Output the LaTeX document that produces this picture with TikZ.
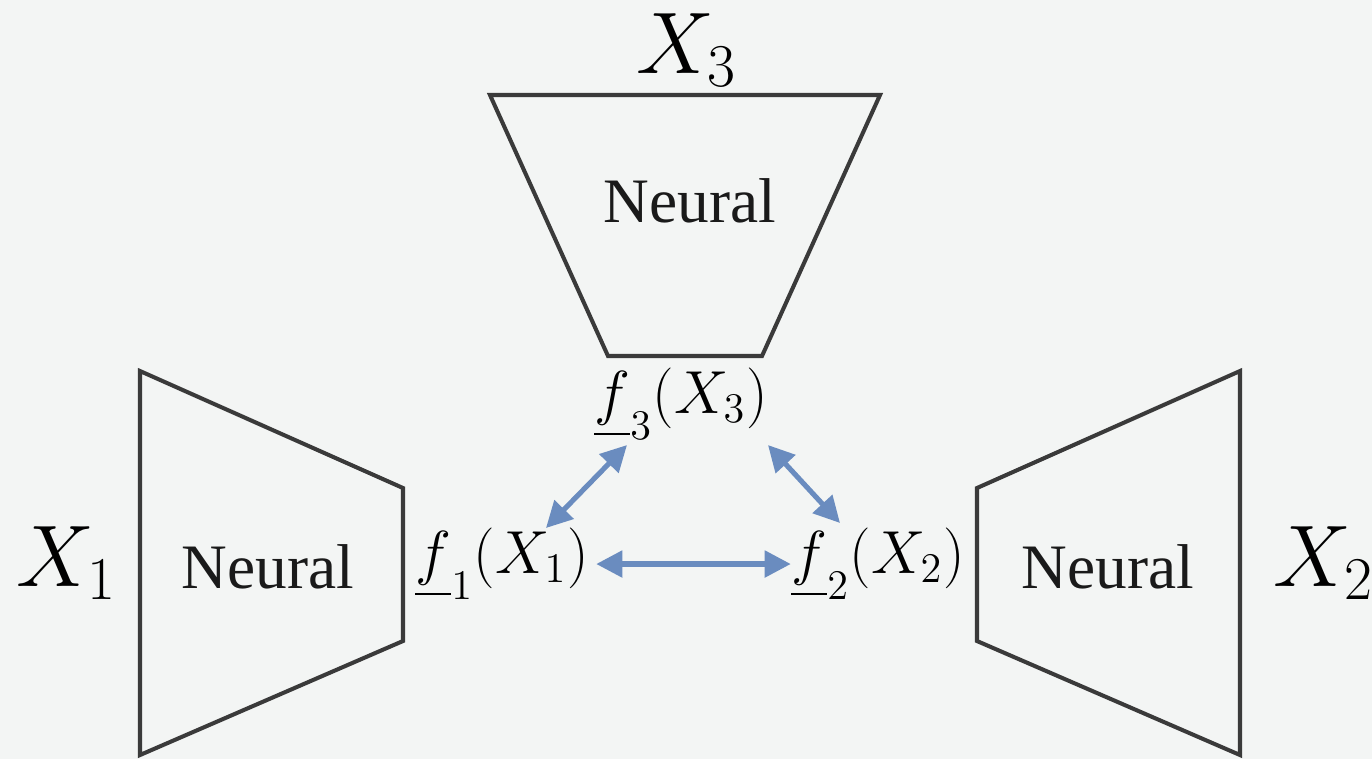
\documentclass[tikz,border=0pt]{standalone}
\usepackage{amsmath}
\usepackage{fontspec}
\setmainfont{Liberation Serif}
\newfontfamily\netfont{Liberation Serif}
\usetikzlibrary{arrows.meta}
\definecolor{cBg}{HTML}{F3F5F4}
\definecolor{cEdgeD}{HTML}{3A3A3A}
\definecolor{cTextT}{HTML}{1A1A1A}
\definecolor{cLinkD}{HTML}{6A8CBF}
\tikzset{
  net/.style    = {draw=cEdgeD, line width=1.15pt, line join=miter},
  netlbl/.style = {text=cTextT, font=\netfont\fontsize{18}{20}\selectfont, inner sep=1pt},
  inlbl/.style  = {text=black, font=\fontsize{23}{26}\selectfont, inner sep=1pt},
  feat/.style   = {text=black, font=\fontsize{16.8}{19}\selectfont, inner sep=1pt},
  link/.style   = {cLinkD, line width=1.45pt,
                   {Triangle[length=7.4pt,width=7.4pt]}-{Triangle[length=7.4pt,width=7.4pt]}},
}

\begin{document}
\begin{tikzpicture}[x=0.01cm, y=-0.01cm]
  \fill[cBg] (0,0) rectangle (1372,759);
  \useasboundingbox (0,0) rectangle (1372,759);
  % top network
  \draw[net] (490,95) -- (880,95) -- (762,356) -- (608,356) -- cycle;
  \node[netlbl] (n3) at (690,201) {Neural};
  \node[inlbl] (x3) at (687,50) {$X_3$};
  % left network
  \draw[net] (140,371) -- (403,488) -- (403,641) -- (140,755) -- cycle;
  \node[netlbl] (n1) at (268,567) {Neural};
  \node[inlbl] (x1) at (67,563) {$X_1$};
  % right network
  \draw[net] (1240,371) -- (977,488) -- (977,641) -- (1240,755) -- cycle;
  \node[netlbl] (n2) at (1108,567) {Neural};
  \node[inlbl] (x2) at (1324,563) {$X_2$};
  % embeddings
  \node[feat] (f3) at (681,404) {$\underline{f}_3(X_3)$};
  \node[feat] (f1) at (502,564) {$\underline{f}_1(X_1)$};
  \node[feat] (f2) at (878,564) {$\underline{f}_2(X_2)$};
  % links
  \draw[link] ([shift={(-54,1)}]f3.south) -- ([shift={(44,4)}]f1.north);
  \draw[link] ([shift={(87,1)}]f3.south) -- ([shift={(-38,-1)}]f2.north);
  \draw[link] ([xshift=1pt]f1.east) -- ([xshift=1pt]f2.west);
\end{tikzpicture}
\end{document}
